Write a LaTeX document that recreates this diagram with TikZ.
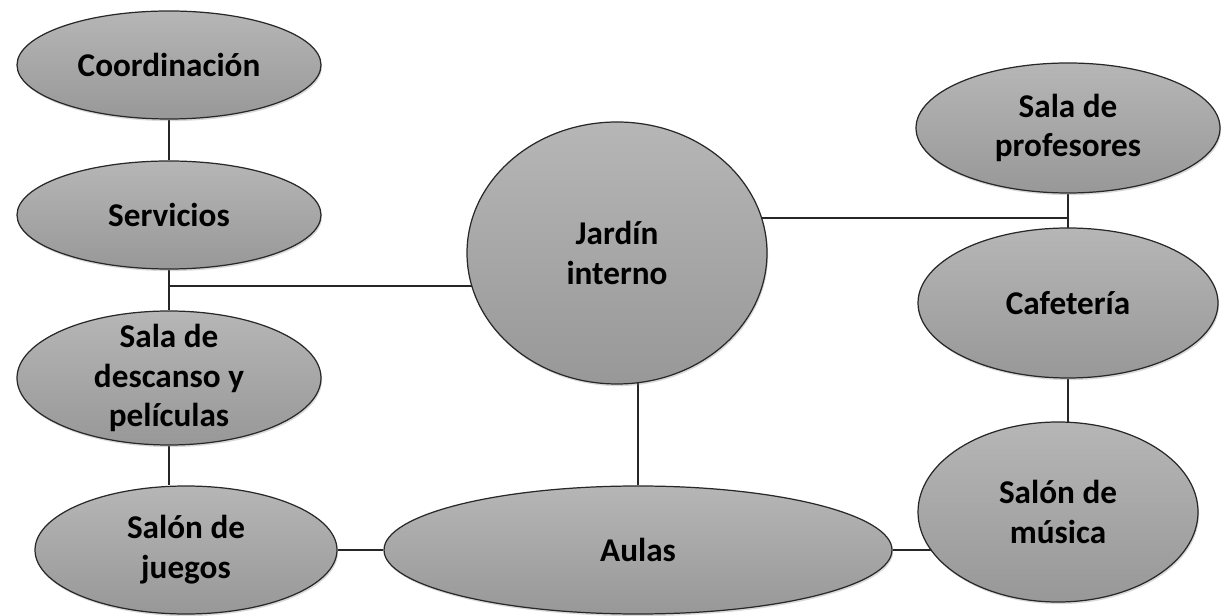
\documentclass[tikz,border=0pt]{standalone}
\usepackage{fontspec}
\setmainfont{Carlito}
\usetikzlibrary{shapes.geometric,shadows,backgrounds}
\definecolor{roomtop}{RGB}{182,182,182}
\definecolor{roombottom}{RGB}{152,152,152}
\definecolor{roomline}{RGB}{40,40,40}
\begin{document}
\begin{tikzpicture}[
  room/.style={ellipse, draw=roomline, line width=0.7pt, top color=roomtop, bottom color=roombottom,
    inner sep=-12pt, align=center, font=\fontsize{18.9}{22.7}\selectfont\bfseries,
    drop shadow={opacity=0.3, shadow xshift=0.6pt, shadow yshift=-1.2pt}},
  link/.style={draw=black!85, line width=1.1pt}]
\useasboundingbox (0,0) rectangle (24.52,12.3);
\node[room, minimum width=6.08cm, minimum height=2.16cm] (coord) at (3.38,11.0) {Coordinación};
\node[room, minimum width=6.08cm, minimum height=2.16cm] (serv) at (3.38,8.0) {Servicios};
\node[room, minimum width=6.08cm, minimum height=2.68cm] (desc) at (3.38,4.74) {Sala de\\descanso y\\películas};
\node[room, minimum width=6.04cm, minimum height=2.56cm] (juegos) at (3.72,1.3) {Salón de\\juegos};
\node[room, minimum width=10.16cm, minimum height=2.56cm] (aulas) at (12.76,1.3) {Aulas};
\node[room, minimum width=6.0cm, minimum height=5.24cm] (jardin) at (12.34,7.24) {Jardín\\interno};
\node[room, minimum width=6.08cm, minimum height=2.6cm] (prof) at (21.36,9.74) {Sala de\\profesores};
\node[room, minimum width=6.0cm, minimum height=3.0cm] (cafe) at (21.36,6.24) {Cafetería};
\node[room, minimum width=5.6cm, minimum height=3.6cm] (musica) at (21.16,2.06) {Salón de\\música};
\coordinate (jl) at (3.38,6.58);
\coordinate (jr) at (21.38,7.94);
\begin{scope}[on background layer]
\draw[link] (coord) -- (serv);
\draw[link] (serv) -- (desc);
\draw[link] (desc.south) -- (desc.south |- juegos.north);
\draw[link] (jl) -- (jl -| jardin.center);
\draw[link] (jr) -- (jr -| jardin.center);
\draw[link] (prof) -- (prof |- cafe.center);
\draw[link] (aulas.north) -- (aulas.north |- jardin.center);
\draw[link] (juegos) -- (aulas);
\draw[link] (aulas) -- (aulas -| musica.center);
\draw[link] (cafe) -- (cafe |- musica.center);
\end{scope}
\end{tikzpicture}
\end{document}
